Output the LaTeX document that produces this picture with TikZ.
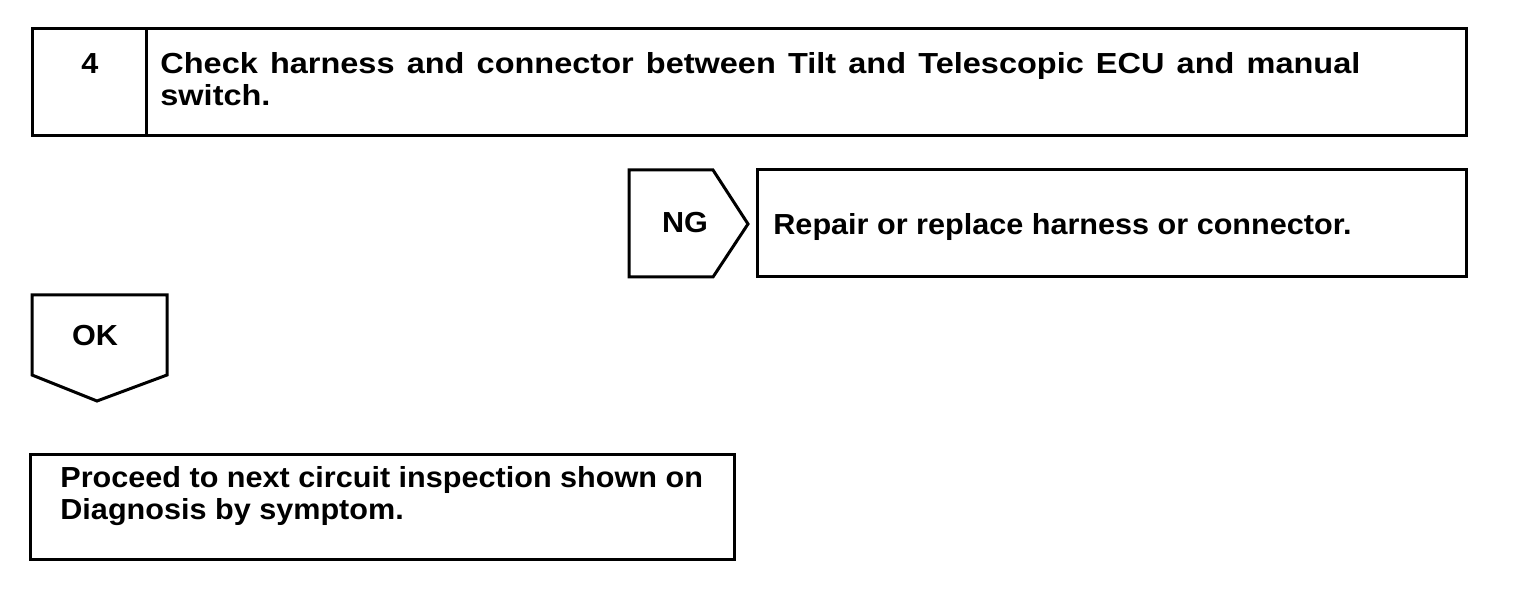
\documentclass[tikz,border=0pt]{standalone}
\usepackage{fontspec}
\setmainfont[FakeStretch=1.055]{Liberation Sans}
\newfontfamily\headfont[FakeStretch=1.12]{Liberation Sans}
\usetikzlibrary{positioning}
\tikzset{x=0.5pt,y=-0.5pt,
    every node/.style={
        font=\bfseries\fontsize{14.5}{16}\selectfont,
        inner sep=0pt},
    frame/.style={
        draw,
        line width=1.5pt,
        line join=miter}}

\begin{document}
\begin{tikzpicture}
        \useasboundingbox (0,0) rectangle (1520,592);
        % step box
        \draw[frame] (32,29) rectangle (1466,136);
        \draw[frame] (146,29) -- (146,136);
        \node[anchor=base] (num) at (90,74) {4};
        \node[anchor=base west, align=left, font=\headfont\bfseries\fontsize{14.5}{16}\selectfont] (check) at (160,106) {\makebox[600pt][s]{Check harness and connector between Tilt and Telescopic ECU and manual}\\switch.};
        % NG branch
        \draw[frame] (629,170) -- (713,170) -- (748,224) -- (713,277) -- (629,277) -- cycle;
        \node[anchor=base] (ng) at (685,233) {NG};
        \draw[frame] (757,170) rectangle (1466,277);
        \node[anchor=base west] (repair) at (773,235) {Repair or replace harness or connector.};
        % OK branch
        \draw[frame] (32,295) -- (167,295) -- (167,375) -- (97,401) -- (32,375) -- cycle;
        \node[anchor=base] (ok) at (95,346) {OK};
        \draw[frame] (30,455) rectangle (734,560);
        \node[anchor=base west, align=left] (proceed) at (60,520) {Proceed to next circuit inspection shown on\\Diagnosis by symptom.};
    \end{tikzpicture}
\end{document}
